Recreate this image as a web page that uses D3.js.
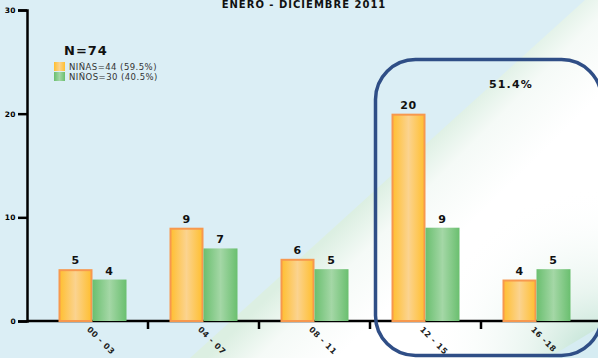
<!DOCTYPE html>
<html>
<head>
<meta charset="utf-8">
<script src="https://cdn.jsdelivr.net/npm/d3@7"></script>
<style>
  html, body { margin: 0; padding: 0; background: #dbeef5; }
  svg { display: block; }
</style>
</head>
<body>
<script>
// Age groups and counts per sex
const categories = ["00 - 03", "04 - 07", "08 - 11", "12 - 15", "16 -18"];
const ninas = [5, 9, 6, 20, 4];
const ninos = [4, 7, 5, 9, 5];
const seriesKeys = ["ninas", "ninos"];
const legendLabels = ["NIÑAS=44 (59.5%)", "NIÑOS=30 (40.5%)"];
const yTicks = [0, 10, 20, 30];
const title = "ENERO - DICIEMBRE 2011";
const totalLabel = "N=74";
const highlightLabel = "51.4%";

const W = 598, H = 358;
const FONT = "DejaVu Sans";
const svg = d3.select("body").append("svg").attr("width", W).attr("height", H);
const defs = svg.append("defs");

// Background: pale blue with a white diagonal band
svg.append("rect").attr("width", W).attr("height", H).attr("fill", "#dbeef5");

const diag = defs.append("linearGradient").attr("id", "diag")
  .attr("gradientUnits", "userSpaceOnUse")
  .attr("x1", 385).attr("y1", 180).attr("x2", 450).attr("y2", 245);
diag.append("stop").attr("offset", 0).attr("stop-color", "#dcefe2");
diag.append("stop").attr("offset", 0.4).attr("stop-color", "#f5faf7");
diag.append("stop").attr("offset", 1).attr("stop-color", "#ffffff");

const bandPath = "M190,358 L585,0 L598,0 L598,358 Z";
svg.append("path").attr("d", bandPath).attr("fill", "url(#diag)");

const corner = defs.append("radialGradient").attr("id", "corner")
  .attr("gradientUnits", "userSpaceOnUse")
  .attr("cx", 598).attr("cy", 358).attr("r", 170);
corner.append("stop").attr("offset", 0).attr("stop-color", "#a8d8c4").attr("stop-opacity", 0.85);
corner.append("stop").attr("offset", 0.4).attr("stop-color", "#cfe9dd").attr("stop-opacity", 0.45);
corner.append("stop").attr("offset", 1).attr("stop-color", "#ffffff").attr("stop-opacity", 0);
svg.append("path").attr("d", bandPath).attr("fill", "url(#corner)");

svg.append("path")
  .attr("d", "M548,358 L598,328 L598,358 Z")
  .attr("fill", "#d6ecf2");

// Bar fills
function barGradient(id, edge, mid) {
  const g = defs.append("linearGradient").attr("id", id)
    .attr("x1", 0).attr("y1", 0).attr("x2", 1).attr("y2", 0);
  g.append("stop").attr("offset", 0).attr("stop-color", edge);
  g.append("stop").attr("offset", 0.5).attr("stop-color", mid);
  g.append("stop").attr("offset", 1).attr("stop-color", edge);
}
barGradient("gOrange", "#ffbf30", "#fbd38f");
barGradient("gGreen", "#6abf6f", "#a4d7a6");

// Scales
const x0 = d3.scaleBand().domain(categories).range([37, 592]).paddingInner(0).paddingOuter(0);
const y = d3.scaleLinear().domain([0, 30]).range([321, 10]);
const barW = 34;
const x1 = d3.scaleBand().domain(seriesKeys).range([-barW, barW]);

// Axes
const yAxis = d3.axisLeft(y).tickValues(yTicks).tickSize(9).tickPadding(2);
const gy = svg.append("g").attr("transform", "translate(27,0)").call(yAxis);
gy.select(".domain").attr("stroke", "#000").attr("stroke-width", 2.5);
gy.selectAll(".tick line").attr("stroke", "#000").attr("stroke-width", 2.5);
gy.selectAll(".tick text")
  .attr("font-family", FONT).attr("font-weight", "bold")
  .attr("font-size", 7.5).attr("letter-spacing", 0.4).attr("fill", "#000");

const xAxisLine = svg.append("g");
xAxisLine.append("line").attr("x1", 27).attr("x2", W).attr("y1", y(0)).attr("y2", y(0))
  .attr("stroke", "#000").attr("stroke-width", 2.5);
const boundaries = categories.slice(1).map(c => x0(c));
xAxisLine.selectAll("line.tk").data(boundaries).join("line").attr("class", "tk")
  .attr("x1", d => d).attr("x2", d => d)
  .attr("y1", y(0)).attr("y2", y(0) + 8)
  .attr("stroke", "#000").attr("stroke-width", 2.5);

// Highlight frame around the 12 - 15 group
svg.append("rect")
  .attr("x", 375.5).attr("y", 59.5).attr("width", 226).attr("height", 296)
  .attr("rx", 40).attr("ry", 40)
  .attr("fill", "none").attr("stroke", "#2f4e86").attr("stroke-width", 3.5);

// Bars
const groups = svg.append("g").selectAll("g").data(categories).join("g")
  .attr("transform", d => `translate(${x0(d) + x0.bandwidth() / 2},0)`);

const rows = categories.map((c, i) => [
  { key: "ninas", value: ninas[i] },
  { key: "ninos", value: ninos[i] }
]);

groups.each(function (c, i) {
  const g = d3.select(this);
  rows[i].forEach(d => {
    const isOrange = d.key === "ninas";
    const bx = x1(d.key), bw = x1.bandwidth();
    g.append("rect")
      .attr("x", isOrange ? bx + 1 : bx)
      .attr("y", isOrange ? y(d.value) + 1 : y(d.value))
      .attr("width", isOrange ? bw - 2 : bw)
      .attr("height", isOrange ? y(0) - y(d.value) - 1 : y(0) - y(d.value))
      .attr("fill", isOrange ? "url(#gOrange)" : "url(#gGreen)")
      .attr("stroke", isOrange ? "#f7984e" : "none")
      .attr("stroke-width", 2);
    g.append("text")
      .attr("x", bx + bw / 2)
      .attr("y", y(d.value) - 5)
      .attr("text-anchor", "middle")
      .attr("font-family", FONT).attr("font-weight", "bold")
      .attr("font-size", 11).attr("letter-spacing", 0.6).attr("fill", "#111")
      .text(d.value);
  });
  g.append("text")
    .attr("transform", `translate(-6,330) rotate(45)`)
    .attr("font-family", FONT).attr("font-weight", "bold")
    .attr("font-size", 8).attr("letter-spacing", 0.6).attr("fill", "#222")
    .text(c);
});

// Title, totals and legend
svg.append("text").attr("x", 304).attr("y", 8).attr("text-anchor", "middle")
  .attr("font-family", FONT).attr("font-weight", "bold")
  .attr("font-size", 10).attr("letter-spacing", 1).attr("fill", "#111").text(title);

svg.append("text").attr("x", 64).attr("y", 54.5)
  .attr("font-family", FONT).attr("font-weight", "bold")
  .attr("font-size", 13).attr("letter-spacing", 1).attr("fill", "#111").text(totalLabel);

const legend = svg.append("g").attr("transform", "translate(54,62)");
legendLabels.forEach((t, i) => {
  legend.append("rect").attr("x", 0).attr("y", i * 10).attr("width", 11).attr("height", 9)
    .attr("fill", i === 0 ? "url(#gOrange)" : "url(#gGreen)");
  legend.append("text").attr("x", 15).attr("y", i * 10 + 7.5)
    .attr("font-family", FONT).attr("font-size", 8.5).attr("letter-spacing", 0.45)
    .attr("fill", "#333")
    .text(t);
});

svg.append("text").attr("x", 511).attr("y", 88).attr("text-anchor", "middle")
  .attr("font-family", FONT).attr("font-weight", "bold")
  .attr("font-size", 11).attr("letter-spacing", 1.2).attr("fill", "#111").text(highlightLabel);
</script>
</body>
</html>
